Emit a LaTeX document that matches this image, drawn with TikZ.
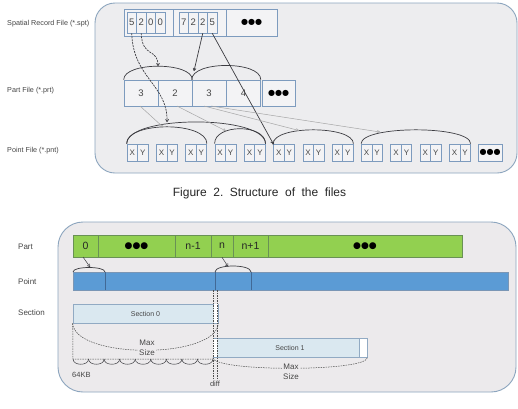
\documentclass[tikz,border=0pt]{standalone}
\usepackage{fontspec}
\setmainfont{Liberation Sans}
\newfontfamily\dejavu{DejaVu Sans}
\usetikzlibrary{arrows.meta}
\definecolor{panel}{RGB}{237,237,239}
\definecolor{panelb}{RGB}{140,165,190}
\definecolor{boxline}{RGB}{125,155,190}
\definecolor{boxfill}{RGB}{243,243,245}
\definecolor{txt}{RGB}{70,70,70}
\definecolor{grn}{RGB}{146,208,80}
\definecolor{grnb}{RGB}{105,145,85}
\definecolor{blu}{RGB}{91,155,213}
\definecolor{blub}{RGB}{65,105,150}
\definecolor{secfill}{RGB}{218,232,240}
\definecolor{secb}{RGB}{145,170,195}
\definecolor{arcc}{RGB}{60,60,65}
\definecolor{panel2}{RGB}{236,234,236}
\tikzset{
  panelbox/.style={draw=panelb, line width=0.9pt, fill=panel, rounded corners=20pt},
  lbl/.style={anchor=west, text=txt, font=\fontsize{7.2}{8}\selectfont, inner sep=0},
  lblb/.style={anchor=west, text=txt, font=\fontsize{8}{9}\selectfont, inner sep=0},
  cell/.style={draw=boxline, line width=0.6pt, fill=boxfill, inner sep=0, minimum width=9.5pt, minimum height=21pt, text=txt, font=\fontsize{9.5}{10}\selectfont},
  partbox/.style={draw=boxline, line width=0.6pt, fill=boxfill, inner sep=0, minimum width=34pt, minimum height=26pt, text=txt, font=\fontsize{9.5}{10}\selectfont},
  xy/.style={draw=boxline, line width=0.6pt, fill=boxfill, inner sep=0, minimum width=10.5pt, minimum height=17pt, text=txt, font=\fontsize{8}{9}\selectfont},
  dots/.style={font=\dejavu\fontsize{8}{8}\selectfont, inner sep=0},
  arcline/.style={draw=arcc, line width=0.7pt},
  darr/.style={draw=arcc, line width=0.7pt, dash pattern=on 2pt off 1pt, -{To[length=3pt,width=3.5pt]}},
  sarr/.style={draw=arcc, line width=0.7pt, -{To[length=3pt,width=3.5pt]}},
  tarr/.style={draw=gray!70, line width=0.5pt, -{To[length=3pt,width=3pt]}},
  gcell/.style={draw=grnb, line width=0.6pt, fill=grn, inner sep=0, minimum height=22pt, font=\fontsize{10.5}{11}\selectfont, text=black!85},
  secbox/.style={draw=secb, line width=0.6pt, fill=secfill, inner sep=0, minimum height=19pt, font=\fontsize{7}{8}\selectfont, text=txt},
  ddash/.style={draw=black!70, line width=0.5pt, dash pattern=on 1.5pt off 1pt},
  msize/.style={align=center, fill=panel2, inner sep=1pt, font=\fontsize{8}{10}\selectfont, text=txt},
}
\begin{document}
\begin{tikzpicture}[x=1pt,y=-1pt]
\useasboundingbox[fill=white] (0,0) rectangle (518,408);

% ================= top panel =================
\draw[panelbox] (95,3) rectangle (517,173);
\node[lbl] (l1) at (7,24) {Spatial Record File (*.spt)};
\node[lbl] (l2) at (7,91) {Part File (*.prt)};
\node[lbl] (l3) at (7,151) {Point File (*.pnt)};

\node[draw=boxline, line width=0.6pt, fill=boxfill, minimum width=153pt, minimum height=27pt, inner sep=0] (rec) at (200.5,22.5) {};
\draw[draw=boxline, line width=0.6pt] (173,9) -- (173,36) (226,9) -- (226,36);
\foreach \t [count=\i] in {5,2,0,0} \node[cell] (a\i) at ({131.75+9.5*(\i-1)},22.5) {\t};
\foreach \t [count=\i] in {7,2,2,5} \node[cell] (b\i) at ({183.75+9.5*(\i-1)},22.5) {\t};
\node[dots] (rdots) at (251.5,22.5) {●●●};

\node[partbox] (p1) at (141,93) {3};
\node[partbox] (p2) at (175,93) {2};
\node[partbox] (p3) at (209,93) {3};
\node[partbox] (p4) at (243.5,93) {4};
\node[partbox, minimum width=33pt] (p5) at (278.5,93) {};
\node[dots] (pdots) at (278.5,93) {●●●};

\foreach \i in {0,...,11} {
  \node[xy] (x\i) at ({127+29.3*\i+5.25},152.5) {X};
  \node[xy] (y\i) at ({127+29.3*\i+15.75},152.5) {Y};
}
\node[draw=boxline, line width=0.6pt, fill=boxfill, minimum width=24pt, minimum height=17pt, inner sep=0] (xdots) at (490,152.5) {};
\node[dots] (xdt) at (490,152.5) {●●●};

% arcs over part boxes
\draw[arcline] (p1.north west) .. controls +(0,-18) and +(0,-18) .. (p2.north east);
\draw[arcline] (p3.north west) .. controls +(0,-19) and +(0,-19) .. (p4.north east);

% arcs over point boxes
\draw[arcline] (x0.north west) .. controls +(0,-29) and +(0,-29) .. (y4.north east);
\draw[arcline] (x0.north west) .. controls +(0,-22.5) and +(0,-22.5) .. (y2.north east);
\draw[arcline] (x3.north west) .. controls +(0,-20) and +(0,-20) .. (y4.north east);
\draw[arcline] (x5.north west) .. controls +(0,-18.5) and +(0,-18.5) .. (y7.north east);
\draw[arcline] (x8.north west) .. controls +(0,-18.5) and +(0,-18.5) .. (y11.north east);

% arrow targets
\coordinate (t1) at (167,122);
\coordinate (t2) at (158,66);
\coordinate (t3) at (194,71);
\coordinate (t4) at (163,127);
\coordinate (t5) at (226,131);
\coordinate (t6) at (299,130.5);
\coordinate (t7) at (380,132);
\coordinate (s1) at (140,106);
\coordinate (s2) at (177,106);
\coordinate (s3) at (204,106);
\coordinate (s4) at (211,106);

\draw[darr] (a1.south) .. controls (133,78) and (168,85) .. (t1);
\draw[darr] (a2.south) .. controls (142,58) and (158,48) .. (t2);
\draw[sarr] (b3.south) -- (t3);
\draw[sarr] (b4.south) -- (x5.north west);
\fill[arcc] (x5.north west) circle (1pt);
\draw[tarr] (s1) -- (t4);
\draw[tarr] (s2) -- (t5);
\draw[tarr] (s3) -- (t6);
\draw[tarr] (s4) -- (t7);

% caption
\node[font=\fontsize{12}{13}\selectfont, text=black!85, inner sep=0] (cap) at (259.5,193)
 {Figure\hspace{6.5pt}2.\hspace{6.5pt}Structure\hspace{6.5pt}of\hspace{6.5pt}the\hspace{6.5pt}files};

% ================= bottom panel =================
\draw[panelbox, rounded corners=25pt, fill=panel2] (58,222) rectangle (516,392);
\node[lblb] (lp) at (18,247) {Part};
\node[lblb] (lpt) at (18,282) {Point};
\node[lblb] (ls) at (18,313) {Section};

\node[gcell, minimum width=25pt] (g0) at (85.5,246) {0};
\node[gcell, minimum width=77pt] (g1) at (136.5,246) {};
\node[dots, font=\dejavu\fontsize{9}{9}\selectfont] (g1d) at (136.5,246) {●●●};
\node[gcell, minimum width=36pt] (g2) at (193,246) {n-1};
\node[gcell, minimum width=22pt] (g3) at (222,246) {n};
\node[gcell, minimum width=35pt] (g4) at (250.5,246) {n+1};
\node[gcell, minimum width=194pt] (g5) at (365,246) {};
\node[dots, font=\dejavu\fontsize{9}{9}\selectfont] (g5d) at (365,246) {●●●};

\node[draw=blub!70, line width=0.5pt, fill=blu, minimum width=435pt, minimum height=18pt, inner sep=0] (bar) at (290.5,281) {};
\draw[blub, line width=0.5pt] (105,272) -- (105,290) (215,272) -- (215,290) (251,272) -- (251,290);

\draw[arcline] (73,272) .. controls +(0,-6) and +(0,-6) .. (105,272);
\draw[arcline] (215,272) .. controls +(0,-8) and +(0,-8) .. (251,272);
\coordinate (u1) at (90,267);
\coordinate (u2) at (228,266.5);
\coordinate (v1) at (83,257);
\draw[sarr, line width=0.5pt] (v1) -- (u1);
\draw[sarr, line width=0.5pt] (g3.south) -- (u2);

% section boxes
\node[secbox, minimum width=145pt] (sec0) at (145.5,313.5) {Section 0};
\fill[white] (214,304.3) rectangle (217.7,322.7);
\node[secbox, minimum width=154pt] (sec1) at (290,348) {Section 1};
\fill[white] (213.3,339.3) rectangle (217,356.7);
\fill[white] (359,339.3) rectangle (366.7,356.7);
\draw[secb, line width=0.6pt] (359,339) -- (359,357);

% max size curves
\draw[ddash] (sec0.south west) .. controls +(2,36) and +(-2,36) .. (sec0.south east);
\node[msize] (m0) at (147,348) {Max\\Size};
\draw[ddash] (sec1.south west) .. controls +(2,14) and +(-2,14) .. (sec1.south east);
\node[msize] (m1) at (291,372) {Max\\Size};

% 64KB region
\coordinate (k0) at (73,359);
\coordinate (k1) at (213,359);
\draw[ddash] (sec0.south west) -- (k0) -- (k1);
\foreach \i in {0,...,8} {
  \draw[arcline, line width=0.5pt] ({73+15.556*\i},359) .. controls +(0,7) and +(0,7) .. ({73+15.556*(\i+1)},359);
}
\node[lblb, font=\fontsize{7.5}{8}\selectfont] (kb) at (72,375) {64KB};

% diff dashed lines
\coordinate (d1) at (213,290);
\coordinate (d2) at (213,379);
\coordinate (d3) at (217.5,290);
\coordinate (d4) at (217.5,379);
\draw[ddash] (d1) -- (d2);
\draw[ddash] (d3) -- (d4);
\node[text=txt, font=\fontsize{7.5}{8}\selectfont, inner sep=0] (diff) at (215,384) {diff};
\end{tikzpicture}
\end{document}
